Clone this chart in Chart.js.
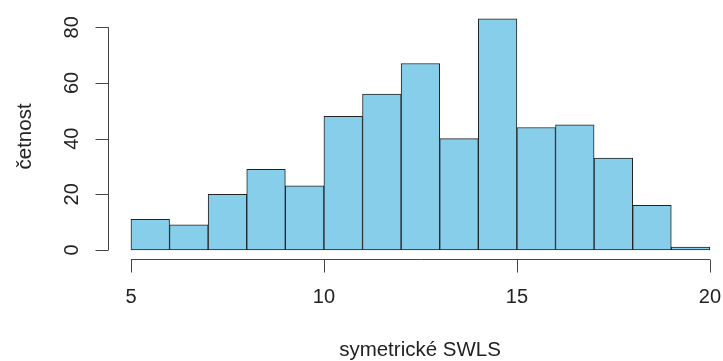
<!DOCTYPE html>
<html>
<head>
<meta charset="utf-8">
<script src="https://cdn.jsdelivr.net/npm/chart.js@4/dist/chart.umd.min.js"></script>
<style>
html,body{margin:0;padding:0;background:#fff;overflow:hidden;}
#wrap{width:723px;height:361px;position:relative;}
</style>
</head>
<body>
<div id="wrap"><canvas id="c" width="723" height="361"></canvas></div>
<script>
// Histogram bins (left edges), counts, and tick labels
const binStarts = [5, 6, 7, 8, 9, 10, 11, 12, 13, 14, 15, 16, 17, 18, 19];
const counts    = [11, 9, 20, 29, 23, 48, 56, 67, 40, 83, 44, 45, 33, 16, 1];
const xTicks = [5, 10, 15, 20];
const yTicks = [0, 20, 40, 60, 80];
const xTitle = 'symetrické SWLS';
const yTitle = 'četnost';

const FONT = '"Liberation Sans", Arial, Helvetica, sans-serif';

const rAxes = {
  id: 'rAxes',
  afterDraw(chart) {
    const ctx = chart.ctx;
    const xs = chart.scales.x, ys = chart.scales.y;
    const area = chart.chartArea;
    ctx.save();
    ctx.strokeStyle = '#444';
    ctx.lineWidth = 1;
    ctx.fillStyle = '#222';
    const tick = 13;
    // Y axis
    const ax = Math.round(area.left) + 0.5;
    ctx.beginPath();
    ctx.moveTo(ax, ys.getPixelForValue(yTicks[0]));
    ctx.lineTo(ax, ys.getPixelForValue(yTicks[yTicks.length - 1]));
    yTicks.forEach(v => {
      const py = Math.round(ys.getPixelForValue(v)) + 0.5;
      ctx.moveTo(ax, py);
      ctx.lineTo(ax - tick, py);
    });
    ctx.stroke();
    ctx.font = '20px ' + FONT;
    ctx.textAlign = 'center';
    ctx.textBaseline = 'middle';
    yTicks.forEach(v => {
      const py = ys.getPixelForValue(v);
      ctx.save();
      ctx.translate(72, py);
      ctx.rotate(-Math.PI / 2);
      ctx.fillText(String(v), 0, 0);
      ctx.restore();
    });
    // X axis
    const ay = Math.round(area.bottom) + 0.5;
    ctx.beginPath();
    ctx.moveTo(xs.getPixelForValue(xTicks[0]), ay);
    ctx.lineTo(xs.getPixelForValue(xTicks[xTicks.length - 1]), ay);
    xTicks.forEach(v => {
      const px = Math.round(xs.getPixelForValue(v)) + 0.5;
      ctx.moveTo(px, ay);
      ctx.lineTo(px, ay + tick);
    });
    ctx.stroke();
    xTicks.forEach(v => {
      ctx.fillText(String(v), xs.getPixelForValue(v), 297);
    });
    // Titles
    ctx.font = '20.5px ' + FONT;
    ctx.fillText(xTitle, 420, 350);
    ctx.save();
    ctx.translate(25, (area.top + area.bottom) / 2 + 2);
    ctx.rotate(-Math.PI / 2);
    ctx.fillText(yTitle, 0, 0);
    ctx.restore();
    ctx.restore();
  }
};

new Chart(document.getElementById('c'), {
  type: 'bar',
  data: {
    datasets: [{
      data: binStarts.map((b, i) => ({ x: b + 0.5, y: counts[i] })),
      backgroundColor: '#87CEEB',
      borderColor: '#222',
      borderWidth: 1,
      borderSkipped: false,
      barPercentage: 1,
      categoryPercentage: 1
    }]
  },
  options: {
    responsive: false,
    animation: false,
    devicePixelRatio: 1,
    layout: { padding: { left: 107.8, right: 0, top: 9.7, bottom: 101.8 } },
    plugins: { legend: { display: false }, tooltip: { enabled: false } },
    scales: {
      x: { type: 'linear', min: 4.4, max: 20.34, offset: false, display: false, grid: { display: false } },
      y: { type: 'linear', min: -3.32, max: 86.32, display: false, grid: { display: false } }
    }
  },
  plugins: [rAxes]
});
</script>
</body>
</html>
